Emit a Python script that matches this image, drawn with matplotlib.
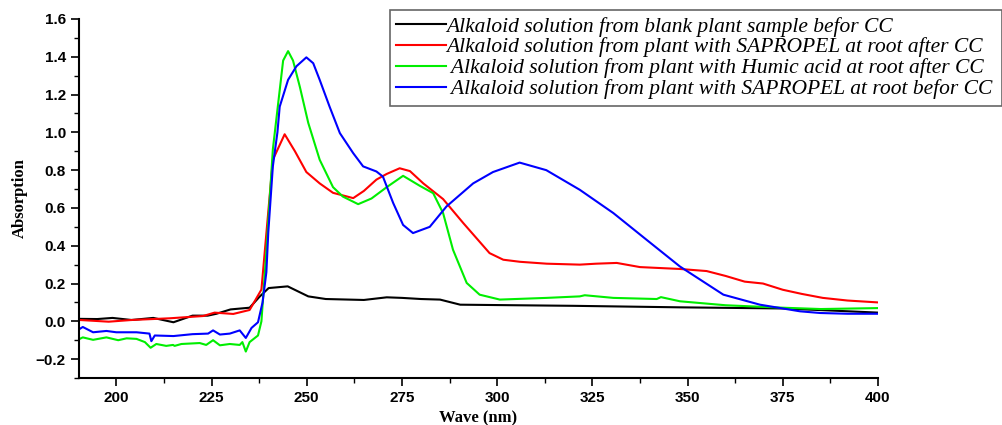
import matplotlib
matplotlib.use("Agg")
import matplotlib.pyplot as plt
from matplotlib.ticker import MultipleLocator

# spectra
blank_x = [190.4, 195, 199, 204, 209.7, 215, 220, 224, 226.3, 230, 235, 237.6, 240, 245, 250.4, 255, 265, 271,
           275, 280, 285, 290.3, 300, 320, 348, 375, 390, 400]
blank_y = [0.013, 0.012, 0.018, 0.007, 0.018, -0.005, 0.03, 0.03, 0.04, 0.063, 0.072, 0.13, 0.176, 0.185, 0.132,
           0.118, 0.113, 0.127, 0.124, 0.118, 0.115, 0.088, 0.086, 0.082, 0.074, 0.068, 0.055, 0.046]

sap_after_x = [190.4, 198, 204, 214, 222.8, 225.8, 230.7, 235, 238.1, 241.1, 244.2, 246.9, 249.9, 253.4, 256.9,
               262.2, 265, 268.3, 271, 274.4, 277.1, 280.6, 285.8, 291.1, 298, 301.6, 306, 313, 321.7, 326, 331.4,
               337.5, 348, 355, 360, 365, 369.8, 375, 380, 385.5, 392, 400]
sap_after_y = [0.007, -0.002, 0.007, 0.016, 0.028, 0.046, 0.039, 0.06, 0.168, 0.855, 0.99, 0.90, 0.79, 0.73, 0.68,
               0.652, 0.69, 0.75, 0.78, 0.81, 0.795, 0.73, 0.647, 0.52, 0.361, 0.326, 0.315, 0.305, 0.30, 0.305,
               0.309, 0.287, 0.277, 0.266, 0.24, 0.21, 0.2, 0.167, 0.145, 0.124, 0.11, 0.10]

humic_x = [190.4, 191.2, 193.9, 197.4, 200.5, 202.7, 205.3, 207.5, 209, 210.5, 213.1, 214.9, 215.3, 217.1, 221.9,
           223.6, 225.4, 227.2, 229.8, 232.4, 233.1, 234, 235, 237.2, 238.1, 239.5, 241.1, 243.8, 245.1, 246.4,
           248.2, 250.4, 253.4, 256.9, 259.5, 263.5, 267, 271, 275.3, 279.7, 283.2, 285.8, 288.4, 292, 295.4,
           300.7, 313, 321.7, 323, 330.5, 341.9, 343, 348, 360, 375, 385, 400]
humic_y = [-0.093, -0.085, -0.098, -0.085, -0.10, -0.09, -0.093, -0.11, -0.14, -0.12, -0.13, -0.125, -0.13, -0.12,
           -0.115, -0.125, -0.10, -0.127, -0.12, -0.125, -0.11, -0.16, -0.11, -0.075, 0.0, 0.4, 0.91, 1.38, 1.43,
           1.38, 1.24, 1.05, 0.855, 0.71, 0.66, 0.62, 0.65, 0.71, 0.77, 0.717, 0.678, 0.573, 0.379, 0.203, 0.141,
           0.115, 0.124, 0.132, 0.138, 0.124, 0.118, 0.128, 0.106, 0.085, 0.072, 0.065, 0.07]

sap_before_x = [190.4, 191.2, 193.9, 197.4, 200, 205.3, 208.7, 209.2, 210.1, 215, 220, 224.1, 225.4, 227.2, 229.8,
                232.4, 234, 235.5, 237.2, 238.4, 239.4, 239.9, 241.1, 242.3, 242.9, 245.1, 247.3, 249.9, 251.7,
                253.4, 256, 258.7, 262.2, 264.8, 268.3, 270, 272.7, 275.3, 277.9, 282.3, 286.7, 293.7, 298.9,
                305.9, 312.9, 321.7, 330.5, 339.2, 348, 359.4, 369, 379.5, 384.8, 392, 400]
sap_before_y = [-0.04, -0.03, -0.058, -0.051, -0.058, -0.058, -0.065, -0.105, -0.075, -0.078, -0.068, -0.065,
                -0.048, -0.07, -0.065, -0.048, -0.088, -0.035, -0.005, 0.1, 0.26, 0.47, 0.82, 1.0, 1.136, 1.278,
                1.35, 1.397, 1.366, 1.278, 1.136, 0.996, 0.89, 0.82, 0.793, 0.766, 0.626, 0.51, 0.467, 0.50,
                0.608, 0.73, 0.79, 0.84, 0.80, 0.696, 0.573, 0.432, 0.29, 0.141, 0.088, 0.053, 0.044, 0.04, 0.04]

labels = [
    "Alkaloid solution from blank plant sample befor CC",
    "Alkaloid solution from plant with SAPROPEL at root after CC",
    " Alkaloid solution from plant with Humic acid at root after CC",
    " Alkaloid solution from plant with SAPROPEL at root befor CC",
]

fig = plt.figure(figsize=(10.03, 4.25), dpi=100)
ax = fig.add_axes([79 / 1003, 1 - 378 / 425, (878 - 79) / 1003, (378 - 19) / 425])

ax.plot(blank_x, blank_y, color="black", lw=1.5, label=labels[0])
ax.plot(sap_after_x, sap_after_y, color="#ff0000", lw=1.5, label=labels[1])
ax.plot(humic_x, humic_y, color="#00ee00", lw=1.5, label=labels[2])
ax.plot(sap_before_x, sap_before_y, color="#0000ff", lw=1.5, label=labels[3])

ax.set_xlim(190.2, 400)
ax.set_ylim(-0.3, 1.6)
ax.xaxis.set_major_locator(MultipleLocator(25))
ax.xaxis.set_minor_locator(MultipleLocator(12.5))
ax.yaxis.set_minor_locator(MultipleLocator(0.1))
ax.set_yticks([-0.2, 0.0, 0.2, 0.4, 0.6, 0.8, 1.0, 1.2, 1.4, 1.6])

for s in ["top", "right"]:
    ax.spines[s].set_visible(False)
for s in ["left", "bottom"]:
    ax.spines[s].set_linewidth(1.5)

ax.tick_params(which="major", direction="out", length=6, width=1.2)
ax.tick_params(which="minor", direction="out", length=3.5, width=1.0)
for lab in ax.get_xticklabels() + ax.get_yticklabels():
    lab.set_fontfamily("Liberation Sans")
    lab.set_fontweight("bold")
    lab.set_fontsize(11)

ax.set_xlabel("Wave (nm)", family="Liberation Serif", weight="bold", fontsize=12, labelpad=4)
ax.set_ylabel("Absorption", family="Liberation Serif", weight="bold", fontsize=12, labelpad=6)

leg = ax.legend(loc="upper left", bbox_to_anchor=(390 / 1003, 1 - 107 / 425, 612 / 1003, 97 / 425),
                bbox_transform=fig.transFigure, mode="expand",
                prop={"family": "Liberation Serif", "style": "italic", "size": 15.5},
                fancybox=False, framealpha=1, edgecolor="#666666", borderaxespad=0,
                handlelength=2.3, handletextpad=0.0, labelspacing=0.04, borderpad=0.3)
leg.get_frame().set_linewidth(1.2)

plt.savefig("out.png", dpi=100)
